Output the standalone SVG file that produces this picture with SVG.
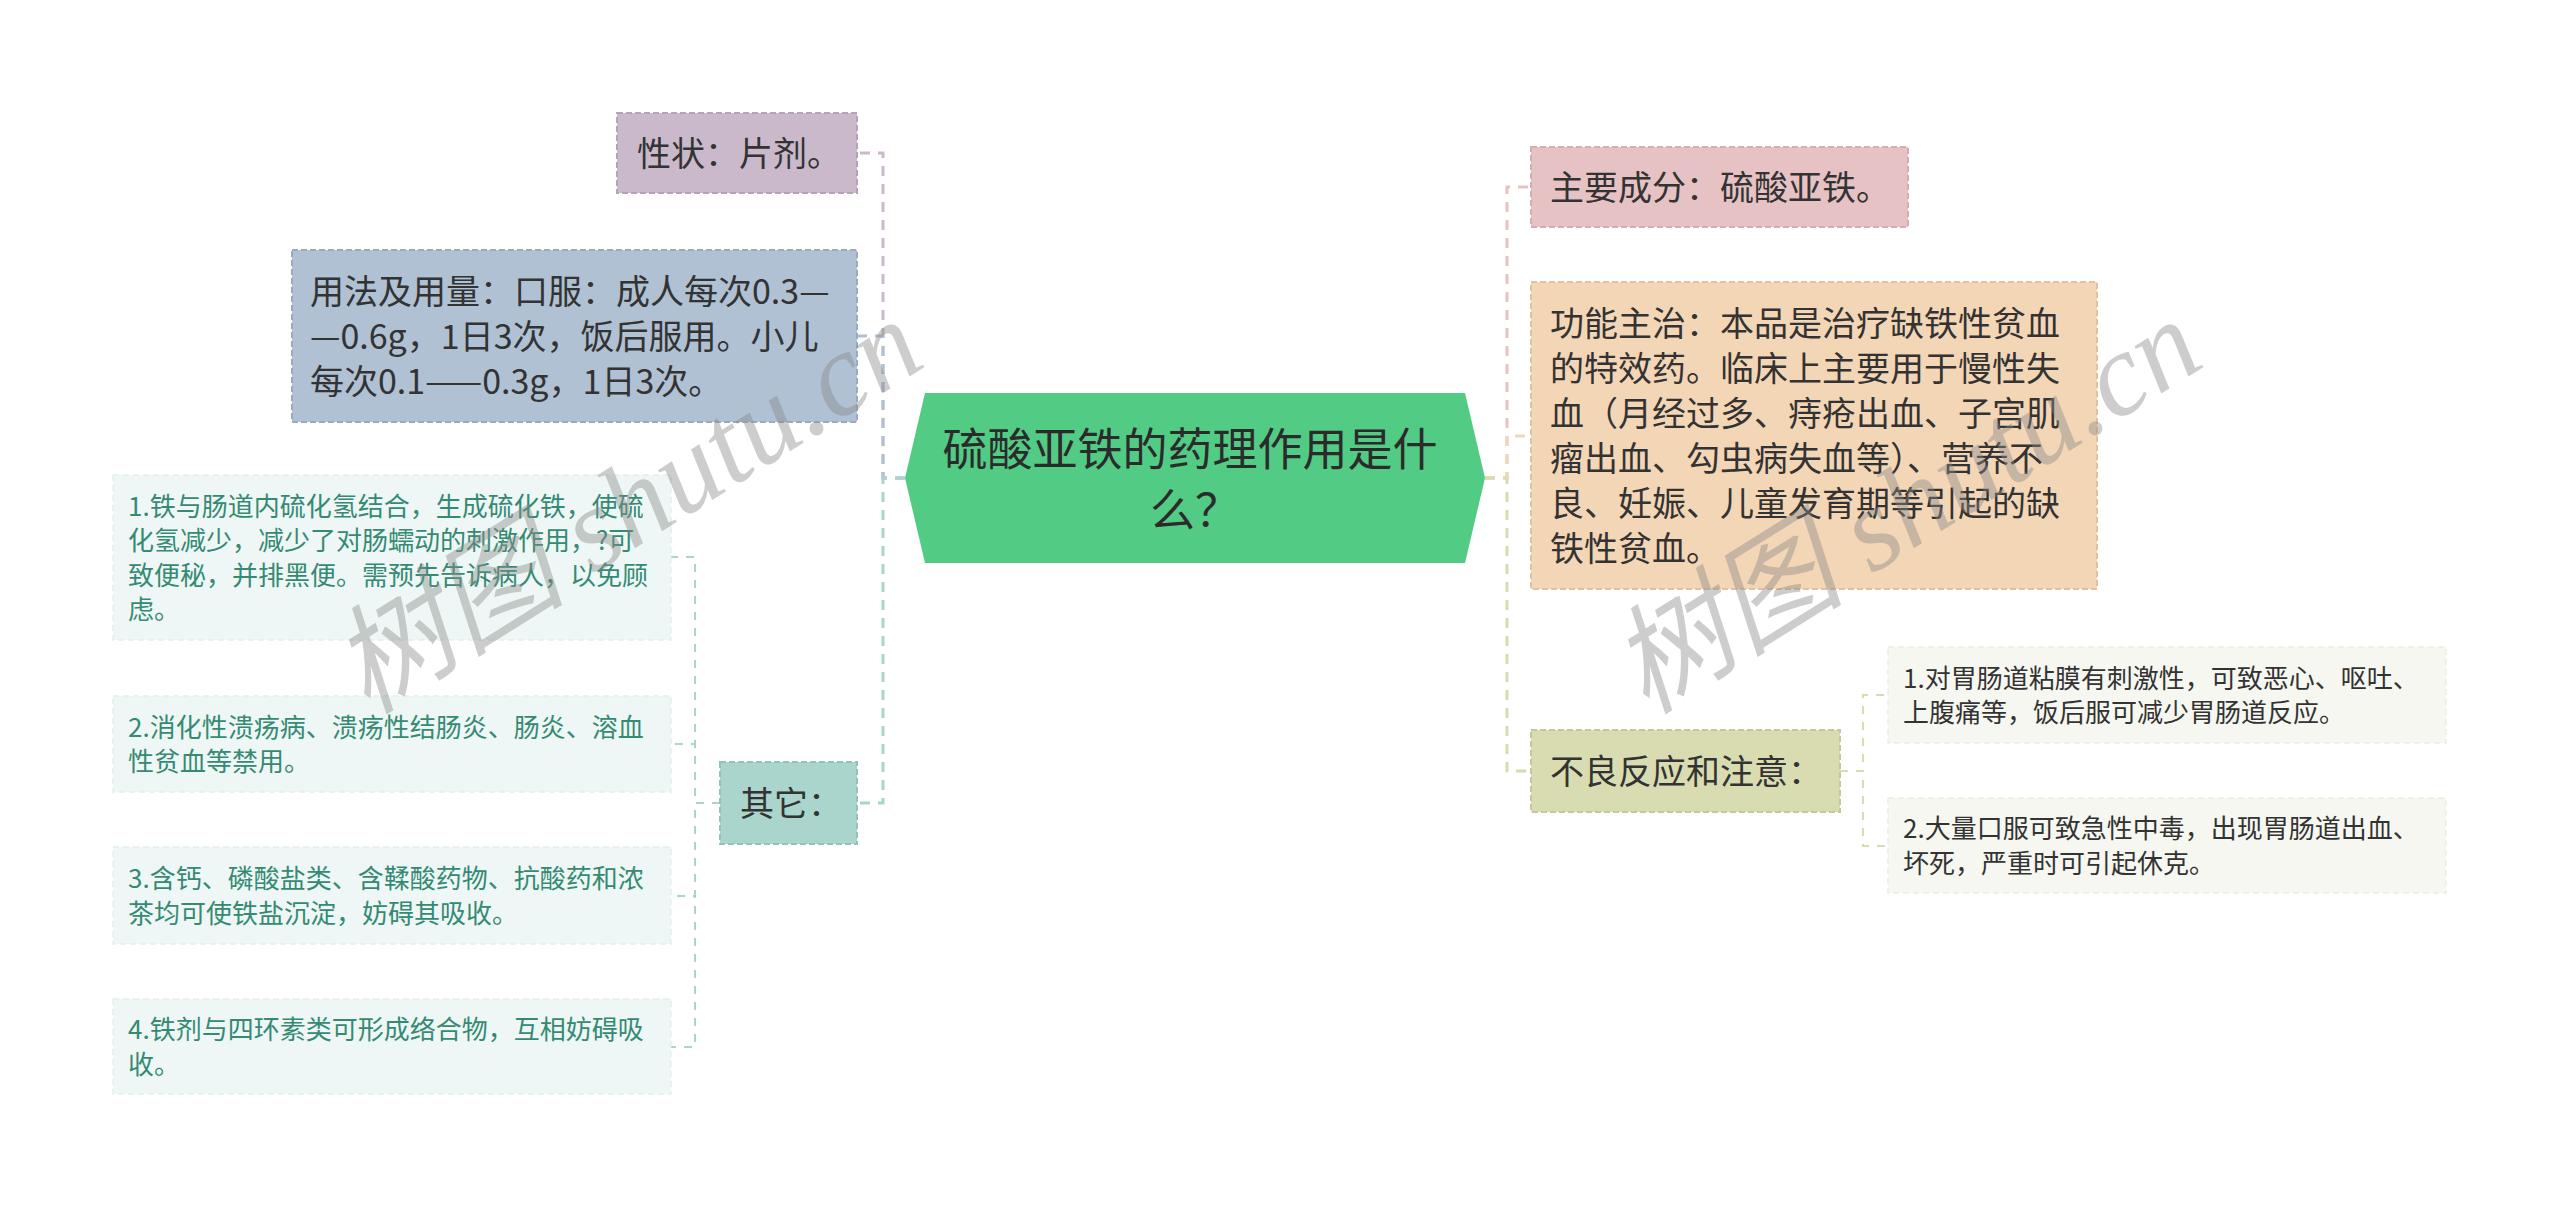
<svg xmlns="http://www.w3.org/2000/svg" width="2560" height="1210" viewBox="0 0 2560 1210" font-family="'Noto Sans CJK SC','Noto Sans',sans-serif">
<style>
.box2{stroke-width:2;stroke-dasharray:6 3}
.box3{stroke-width:1.5;stroke-dasharray:6 4}
.t2{font-size:34px;fill:#333333}
.t3l{font-size:26px;fill:#358a73}
.t3r{font-size:26px;fill:#333333}
.trunk{fill:none;stroke-width:3;stroke-dasharray:10 8}
.sub{fill:none;stroke-width:2;stroke-dasharray:8 8}
.wm{font-family:'Liberation Serif','Noto Sans CJK SC',serif;font-style:italic;font-size:118px;fill:#8a8a8a;opacity:0.42}
</style>
<rect x="0" y="0" width="2560" height="1210" fill="#ffffff"/>

<g id="connectors">
  <path class="trunk" stroke="#c9b9cb" d="M905,478 H883 V153 H857"/>
  <path class="trunk" stroke="#b0c1d4" d="M905,478 H883 V336 H857"/>
  <path class="trunk" stroke="#a9d5cc" d="M905,478 H883 V803 H857"/>
  <path class="sub" stroke="#a9d5cc" d="M720,803 H695 V557 H671"/>
  <path class="sub" stroke="#a9d5cc" d="M720,803 H695 V744 H671"/>
  <path class="sub" stroke="#a9d5cc" d="M720,803 H695 V896 H671"/>
  <path class="sub" stroke="#a9d5cc" d="M720,803 H695 V1047 H671"/>
  <path class="trunk" stroke="#e6c2c4" d="M1485,478 H1507 V187 H1531"/>
  <path class="trunk" stroke="#f3d6b6" d="M1485,478 H1507 V436 H1531"/>
  <path class="trunk" stroke="#d9dcb0" d="M1485,478 H1507 V771 H1531"/>
  <path class="sub" stroke="#d9dcb0" d="M1840,771 H1863 V695 H1888"/>
  <path class="sub" stroke="#d9dcb0" d="M1840,771 H1863 V846 H1888"/>
</g>

<g id="root">
  <polygon points="905,478 925,393 1465,393 1485,478 1465,563 925,563" fill="#52cb84"/>
  <text font-size="45" fill="#2b2b2b" text-anchor="middle">
    <tspan x="1195" y="466">硫酸亚铁的药理作用是什</tspan>
    <tspan x="1195" y="527">么？</tspan>
  </text>
</g>

<g id="node-xingzhuang">
  <rect class="box2" x="617" y="113" width="240" height="80" fill="#c9b9cb" stroke="#b3a3b6"/>
  <text class="t2" x="637" y="166">性状：片剂。</text>
</g>

<g id="node-yongfa">
  <rect class="box2" x="292" y="250" width="565" height="172" fill="#b0c1d4" stroke="#9aabbf"/>
  <text class="t2">
    <tspan x="310" y="304">用法及用量：口服：成人每次0.3—</tspan>
    <tspan x="310" y="349">—0.6g，1日3次，饭后服用。小儿</tspan>
    <tspan x="310" y="394">每次0.1——0.3g，1日3次。</tspan>
  </text>
</g>

<g id="node-qita">
  <rect class="box2" x="720" y="762" width="137" height="82" fill="#a9d5cc" stroke="#94c2b8"/>
  <text class="t2" x="740" y="816">其它：</text>
</g>

<g id="node-qita-1">
  <rect class="box3" x="113" y="475" width="558" height="165" fill="#eef7f5" stroke="#e3f0ec"/>
  <text class="t3l">
    <tspan x="128" y="516">1.铁与肠道内硫化氢结合，生成硫化铁，使硫</tspan>
    <tspan x="128" y="550">化氢减少，减少了对肠蠕动的刺激作用，?可</tspan>
    <tspan x="128" y="585">致便秘，并排黑便。需预先告诉病人，以免顾</tspan>
    <tspan x="128" y="619">虑。</tspan>
  </text>
</g>

<g id="node-qita-2">
  <rect class="box3" x="113" y="696" width="558" height="96" fill="#eef7f5" stroke="#e3f0ec"/>
  <text class="t3l">
    <tspan x="128" y="737">2.消化性溃疡病、溃疡性结肠炎、肠炎、溶血</tspan>
    <tspan x="128" y="771">性贫血等禁用。</tspan>
  </text>
</g>

<g id="node-qita-3">
  <rect class="box3" x="113" y="847" width="558" height="97" fill="#eef7f5" stroke="#e3f0ec"/>
  <text class="t3l">
    <tspan x="128" y="888">3.含钙、磷酸盐类、含鞣酸药物、抗酸药和浓</tspan>
    <tspan x="128" y="923">茶均可使铁盐沉淀，妨碍其吸收。</tspan>
  </text>
</g>

<g id="node-qita-4">
  <rect class="box3" x="113" y="999" width="558" height="95" fill="#eef7f5" stroke="#e3f0ec"/>
  <text class="t3l">
    <tspan x="128" y="1039">4.铁剂与四环素类可形成络合物，互相妨碍吸</tspan>
    <tspan x="128" y="1074">收。</tspan>
  </text>
</g>

<g id="node-chengfen">
  <rect class="box2" x="1531" y="147" width="377" height="80" fill="#e6c2c4" stroke="#d4aeb1"/>
  <text class="t2" x="1550" y="200">主要成分：硫酸亚铁。</text>
</g>

<g id="node-gongneng">
  <rect class="box2" x="1531" y="282" width="566" height="307" fill="#f3d6b6" stroke="#e1c2a0"/>
  <text class="t2">
    <tspan x="1550" y="336">功能主治：本品是治疗缺铁性贫血</tspan>
    <tspan x="1550" y="381">的特效药。临床上主要用于慢性失</tspan>
    <tspan x="1550" y="426">血（月经过多、痔疮出血、子宫肌</tspan>
    <tspan x="1550" y="471">瘤出血、勾虫病失血等）、营养不</tspan>
    <tspan x="1550" y="516">良、妊娠、儿童发育期等引起的缺</tspan>
    <tspan x="1550" y="561">铁性贫血。</tspan>
  </text>
</g>

<g id="node-buliang">
  <rect class="box2" x="1531" y="730" width="309" height="82" fill="#d9dcb0" stroke="#c5c89b"/>
  <text class="t2" x="1550" y="784">不良反应和注意：</text>
</g>

<g id="node-buliang-1">
  <rect class="box3" x="1888" y="647" width="558" height="96" fill="#f6f7f0" stroke="#eceee2"/>
  <text class="t3r">
    <tspan x="1903" y="688">1.对胃肠道粘膜有刺激性，可致恶心、呕吐、</tspan>
    <tspan x="1903" y="722">上腹痛等，饭后服可减少胃肠道反应。</tspan>
  </text>
</g>

<g id="node-buliang-2">
  <rect class="box3" x="1888" y="798" width="558" height="95" fill="#f6f7f0" stroke="#eceee2"/>
  <text class="t3r">
    <tspan x="1903" y="838">2.大量口服可致急性中毒，出现胃肠道出血、</tspan>
    <tspan x="1903" y="873">坏死，严重时可引起休克。</tspan>
  </text>
</g>

<g id="watermark">
  <text class="wm" text-anchor="middle" transform="translate(648,540) rotate(-32)">树图 shutu.cn</text>
  <text class="wm" text-anchor="middle" transform="translate(1927,540) rotate(-32)">树图 shutu.cn</text>
</g>
</svg>
